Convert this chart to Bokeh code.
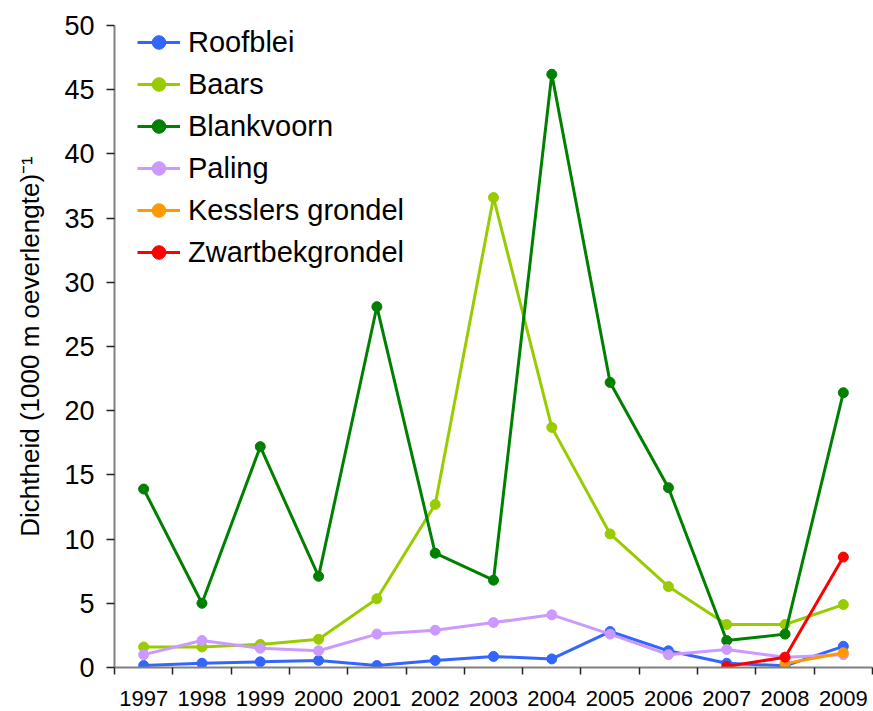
from bokeh.plotting import figure
from bokeh.models import FixedTicker, Legend, LegendItem, Range1d
from bokeh.embed import file_html
from bokeh.resources import INLINE

years = [1997, 1998, 1999, 2000, 2001, 2002, 2003, 2004, 2005, 2006, 2007, 2008, 2009]
roofblei = [0.15, 0.33, 0.44, 0.55, 0.15, 0.55, 0.86, 0.67, 2.8, 1.3, 0.33, 0.13, 1.65]
baars = [1.6, 1.6, 1.8, 2.2, 5.35, 12.7, 36.6, 18.7, 10.4, 6.3, 3.35, 3.35, 4.9]
blankvoorn = [13.9, 5.0, 17.2, 7.1, 28.1, 8.9, 6.8, 46.2, 22.2, 14.0, 2.1, 2.6, 21.4]
paling = [1.0, 2.1, 1.5, 1.3, 2.6, 2.9, 3.5, 4.1, 2.6, 1.0, 1.4, 0.8, 1.0]
kessler_years = [2008, 2009]
kessler = [0.3, 1.15]
zwartbek_years = [2007, 2008, 2009]
zwartbek = [0.08, 0.8, 8.6]

series = [
    ("Roofblei", years, roofblei, "#3366FF"),
    ("Baars", years, baars, "#99CC00"),
    ("Blankvoorn", years, blankvoorn, "#008000"),
    ("Paling", years, paling, "#CC99FF"),
    ("Kesslers grondel", kessler_years, kessler, "#FF9900"),
    ("Zwartbekgrondel", zwartbek_years, zwartbek, "#FF0000"),
]

FONT = "Liberation Sans"

p = figure(width=873, height=711, output_backend="svg", toolbar_location=None,
           x_range=Range1d(years[0] - 0.5, years[-1] + 0.5), y_range=Range1d(0, 50),
           min_border_left=114, min_border_top=25, min_border_right=1, min_border_bottom=44)
p.outline_line_color = None
p.grid.visible = False
p.background_fill_color = "white"
p.border_fill_color = "white"

items = []
for name, xs, ys, col in series:
    r1 = p.line(xs, ys, line_color=col, line_width=3)
    r2 = p.scatter(xs, ys, size=10, fill_color=col, line_color=col, marker="circle")
    items.append(LegendItem(label=name, renderers=[r1, r2]))

legend = Legend(items=items, location=(23, 398), background_fill_alpha=0,
                border_line_color=None, label_text_font=FONT, label_text_font_size="29px",
                label_text_color="black",
                glyph_width=43, glyph_height=34, label_height=34, spacing=8,
                label_standoff=8, padding=0, margin=0)
p.add_layout(legend)

xa = p.xaxis[0]
xa.ticker = FixedTicker(ticks=years, minor_ticks=[y - 0.5 for y in years] + [years[-1] + 0.5])
xa.major_tick_line_color = None
xa.minor_tick_line_color = "#222222"
xa.minor_tick_line_width = 1.5
xa.minor_tick_out = 7
xa.minor_tick_in = 0
xa.axis_line_color = "#808080"
xa.axis_line_width = 2
xa.major_label_text_font = FONT
xa.major_label_text_font_size = "22px"
xa.major_label_text_color = "black"
xa.major_label_standoff = 16

ya = p.yaxis[0]
ya.ticker = FixedTicker(ticks=list(range(0, 51, 5)))
ya.minor_tick_line_color = None
ya.major_tick_line_color = "#222222"
ya.major_tick_line_width = 1.5
ya.major_tick_out = 8
ya.major_tick_in = 0
ya.axis_line_color = "#808080"
ya.axis_line_width = 2
ya.major_label_text_font = FONT
ya.major_label_text_font_size = "27px"
ya.major_label_text_color = "black"
ya.major_label_standoff = 12
ya.axis_label = "Dichtheid (1000 m oeverlengte)\u207b\u00b9"
ya.axis_label_text_font = FONT
ya.axis_label_text_font_size = "26px"
ya.axis_label_text_font_style = "normal"
ya.axis_label_text_color = "black"
ya.axis_label_standoff = 16

open("out.html", "w").write(file_html(p, INLINE))
